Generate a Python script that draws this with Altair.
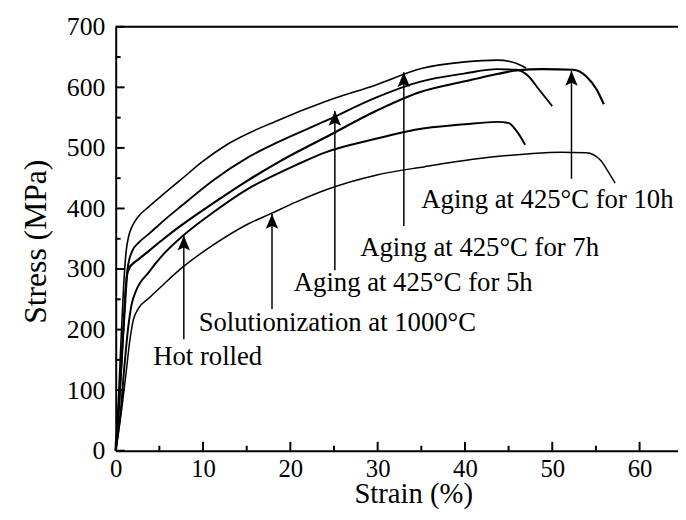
import altair as alt
import pandas as pd

# ---- data ----
series_names = ["A", "B", "C", "D", "E"]

a_strain = [0, 0.3, 0.6, 0.9, 1.2, 1.5, 1.9, 2.5, 3.8, 5.5, 7.5, 10.0, 12.8, 18.5, 24.1, 29.8, 35.0, 40.0, 43.7, 45.6, 47.0]
a_stress = [0, 80, 180, 270, 330, 355, 371, 385, 403, 424, 448, 478, 506, 545, 577, 604, 631, 642, 645, 641, 632]

b_strain = [0, 0.4, 0.8, 1.1, 1.4, 1.9, 2.6, 3.8, 5.5, 7.5, 11.3, 15.1, 18.5, 24.1, 29.8, 34.8, 40.0, 43.7, 45.9, 47.3, 48.5, 50.0]
b_stress = [0, 80, 180, 260, 305, 330, 343, 358, 380, 404, 448, 484, 509, 545, 583, 609, 623, 630, 629, 618, 596, 569]

c_strain = [0, 0.4, 0.8, 1.1, 1.3, 1.6, 1.9, 2.6, 3.8, 5.5, 7.5, 11.3, 15.1, 18.7, 24.1, 29.8, 34.8, 40.0, 43.7, 45.9, 48.9, 52.4, 53.9, 55.1, 55.9]
c_stress = [0, 80, 180, 250, 290, 303, 308, 316, 330, 350, 372, 410, 446, 477, 518, 561, 592, 610, 622, 628, 630, 629, 618, 596, 572]

d_strain = [0, 0.6, 1.0, 1.4, 1.8, 2.3, 3.8, 5.5, 7.7, 11.3, 15.1, 18.9, 20.7, 24.1, 29.8, 34.3, 40.0, 43.7, 45.0, 45.9, 46.9]
d_stress = [0, 70, 140, 200, 240, 263, 295, 325, 355, 395, 432, 460, 472, 493, 515, 530, 539, 543, 541, 528, 505]

e_strain = [0, 0.7, 1.2, 1.6, 2.0, 2.6, 3.8, 5.5, 7.5, 11.3, 15.1, 17.7, 20.7, 24.1, 29.8, 35.4, 41.4, 47.1, 51.0, 53.9, 55.5, 56.4, 57.2]
e_stress = [0, 70, 130, 180, 215, 235, 252, 275, 301, 341, 374, 391, 411, 431, 455, 469, 482, 490, 493, 492, 480, 461, 442]

line_widths = [1.6, 1.9, 2.2, 2.0, 1.5]

label_texts = ["Hot rolled", "Solutionization at 1000°C", "Aging at 425°C for 5h",
               "Aging at 425°C for 7h", "Aging at 425°C for 10h"]
label_strain = [4.3, 9.5, 20.4, 28.0, 35.0]
label_stress = [141, 198, 264, 322, 400]

arrow_strain = [7.8, 17.9, 25.1, 33.0, 52.2]
arrow_tail = [184, 234, 298, 371, 449]
arrow_tip = [355, 391, 561, 625, 627]

x_major = [0, 10, 20, 30, 40, 50, 60]
x_minor = [5, 15, 25, 35, 45, 55]
y_major = [0, 100, 200, 300, 400, 500, 600, 700]
y_minor = [50, 150, 250, 350, 450, 550, 650]

# ---- build tables ----
W, H = 569, 429
curves = [(a_strain, a_stress), (b_strain, b_stress), (c_strain, c_stress),
          (d_strain, d_stress), (e_strain, e_stress)]

xs = alt.Scale(domain=[0, 64.4], nice=False, zero=False)
ys = alt.Scale(domain=[0, 700], nice=False)

font = "Liberation Serif"

layers = []
for name, (sx, sy), lw in zip(series_names, curves, line_widths):
    df = pd.DataFrame({"strain": sx, "stress": sy, "order": range(len(sx))})
    layers.append(
        alt.Chart(df).mark_line(color="black", strokeWidth=lw, interpolate="monotone").encode(
            x=alt.X("strain:Q", scale=xs),
            y=alt.Y("stress:Q", scale=ys),
            order="order:Q",
        )
    )

arrows = pd.DataFrame({"x": arrow_strain, "tail": arrow_tail, "tip": arrow_tip})
shaft = alt.Chart(arrows).mark_rule(color="black", strokeWidth=1.5).encode(
    x=alt.X("x:Q", scale=xs), y=alt.Y("tail:Q", scale=ys), y2="tip:Q")
head = alt.Chart(arrows).mark_point(
    shape="M0,0 L-0.42,1 L0,0.8 L0.42,1 Z", filled=True, size=900,
    color="black", opacity=1, strokeWidth=0).encode(
    x=alt.X("x:Q", scale=xs), y=alt.Y("tip:Q", scale=ys))

labels = pd.DataFrame({"t": label_texts, "x": label_strain, "y": label_stress})
text = alt.Chart(labels).mark_text(align="left", baseline="alphabetic", fontSize=27,
                                   font=font, color="black").encode(
    x=alt.X("x:Q", scale=xs), y=alt.Y("y:Q", scale=ys), text="t:N")

# inward ticks
xmaj = alt.Chart(pd.DataFrame({"v": x_major})).mark_rule(color="black", strokeWidth=2).encode(
    x=alt.X("v:Q", scale=xs), y=alt.value(H), y2=alt.value(H - 9))
xmin = alt.Chart(pd.DataFrame({"v": x_minor})).mark_rule(color="black", strokeWidth=2).encode(
    x=alt.X("v:Q", scale=xs), y=alt.value(H), y2=alt.value(H - 5))
ymaj = alt.Chart(pd.DataFrame({"v": y_major})).mark_rule(color="black", strokeWidth=2).encode(
    y=alt.Y("v:Q", scale=ys), x=alt.value(0), x2=alt.value(9))
ymin = alt.Chart(pd.DataFrame({"v": y_minor})).mark_rule(color="black", strokeWidth=2).encode(
    y=alt.Y("v:Q", scale=ys), x=alt.value(0), x2=alt.value(5))
top_border = alt.Chart(pd.DataFrame({"v": [0]})).mark_rule(color="black", strokeWidth=2).encode(
    x=alt.value(0), x2=alt.value(W), y=alt.value(0))

base = alt.Chart(pd.DataFrame({"strain": [0], "stress": [0]})).mark_point(opacity=0).encode(
    x=alt.X("strain:Q", scale=xs,
            axis=alt.Axis(values=x_major, title="Strain (%)", ticks=False, grid=False,
                          domainColor="black", domainWidth=2, labelPadding=6,
                          labelFontSize=25, labelFont=font, labelColor="black",
                          titleFontSize=29, titleFont=font, titleFontWeight="normal",
                          titleColor="black", titleX=301, titleY=52,
                          titleBaseline="alphabetic", labelFlush=False)),
    y=alt.Y("stress:Q", scale=ys,
            axis=alt.Axis(values=y_major, title="Stress (MPa)", ticks=False, grid=False,
                          domainColor="black", domainWidth=2, labelPadding=11,
                          labelFontSize=26, labelFont=font, labelColor="black",
                          titleFontSize=32, titleFont=font, titleFontWeight="normal",
                          titleColor="black", titleX=-71, titleY=217, titleAngle=270,
                          titleBaseline="alphabetic", labelFlush=False)),
)

chart = alt.layer(base, *layers, shaft, head, text, xmaj, xmin, ymaj, ymin, top_border).properties(
    width=W, height=H,
    autosize=alt.AutoSizeParams(type="none"),
    padding={"left": 109, "top": 16, "right": 0, "bottom": 59},
).configure_view(stroke=None).configure(background="white")

chart.save("out.html", embed_options={"renderer": "svg", "actions": False})
